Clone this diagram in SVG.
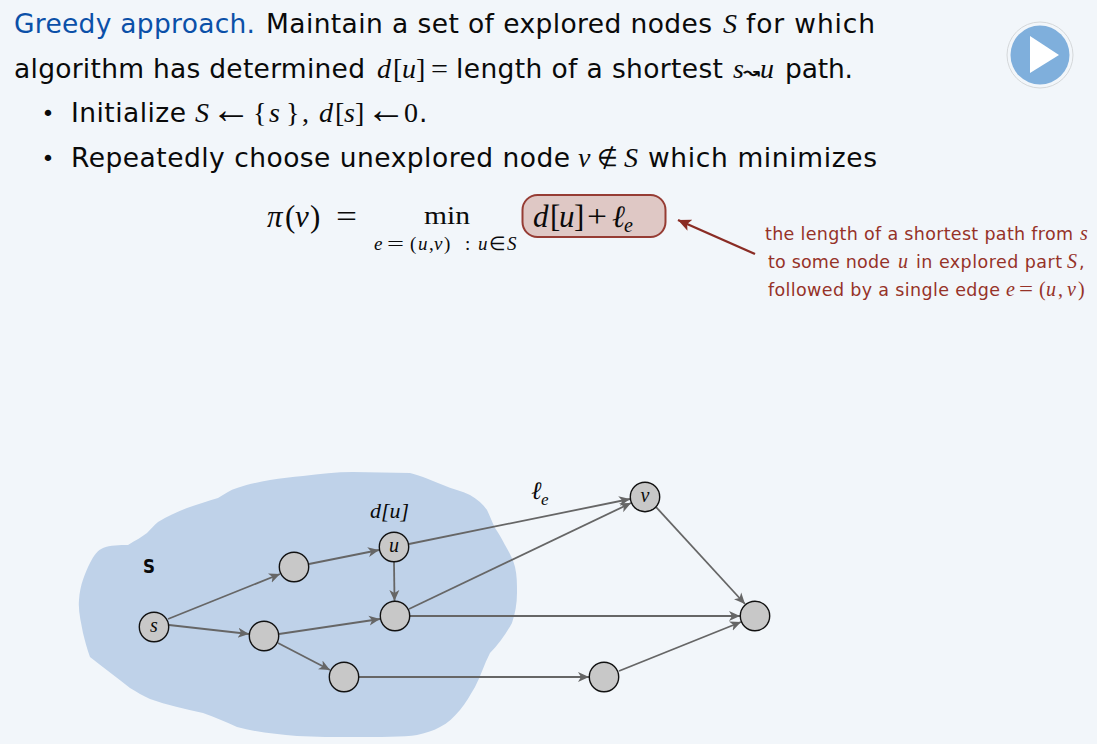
<svg xmlns="http://www.w3.org/2000/svg" width="1097" height="744" viewBox="0 0 1097 744">
<style>
text{font-family:"DejaVu Sans","Liberation Sans",sans-serif;fill:#0a0a0a}
.t{font-size:26.5px}
.b{font-size:22px}
.m{font-family:"Liberation Serif",serif;font-style:italic;font-size:28px}
.r{font-family:"Liberation Serif",serif;font-size:28px}
.ar{font-family:"Liberation Serif",serif;font-size:40px}
.c{font-family:"Liberation Serif",serif;font-size:31px}
.s{font-family:"Liberation Serif",serif;font-size:19px}
.i{font-style:italic}
.a{font-size:17.500px;fill:#963228}
.am{font-family:"Liberation Serif",serif;font-style:italic;font-size:20px;fill:#963228}
.amr{font-family:"Liberation Serif",serif;font-size:20px;fill:#963228}
.n{fill:#c8c8c8;stroke:#111;stroke-width:1.4}
.nl{font-family:"Liberation Serif",serif;font-style:italic;font-size:20px;text-anchor:middle}
.e{fill:none;stroke:#666;stroke-width:1.8;marker-end:url(#ah)}
</style>
<defs>
<marker id="ah" markerUnits="userSpaceOnUse" markerWidth="14" markerHeight="12" refX="11" refY="6" orient="auto"><path d="M0,1 L11,6 L0,11 L3,6 Z" fill="#666"/></marker>
<marker id="rh" markerUnits="userSpaceOnUse" markerWidth="16" markerHeight="14" refX="13" refY="7" orient="auto"><path d="M0,1 L13,7 L0,13 L3,7 Z" fill="#8a2c24"/></marker>
</defs>
<rect width="1097" height="744" fill="#f2f6fa"/>
<g id="heading">
<text class="t" x="14" y="33" textLength="241" style="fill:#0b50a8">Greedy approach.</text>
<text class="t" x="266" y="33" textLength="446">Maintain a set of explored nodes</text>
<text class="m" x="723" y="33">S</text>
<text class="t" x="746" y="33" textLength="129">for which</text>
<text class="t" x="14" y="78" textLength="351">algorithm has determined</text>
<text class="m" x="377" y="78">d</text><text class="r" x="393" y="78">[</text><text class="m" x="402" y="78">u</text><text class="r" x="416" y="78">]</text>
<text class="r" x="431" y="78" textLength="17" lengthAdjust="spacingAndGlyphs">=</text>
<text class="t" x="456" y="78" textLength="267">length of a shortest</text>
<text class="m" x="733" y="78">s</text><text x="743" y="78" style="font-size:17px;font-weight:bold" textLength="17" lengthAdjust="spacingAndGlyphs">↝</text><text class="m" x="760" y="78">u</text>
<text class="t" x="785" y="78" textLength="68">path.</text>
</g>
<g id="bullets">
<text class="b" x="41.500" y="121">•</text>
<text class="t" x="71" y="122" textLength="115">Initialize</text>
<text class="m" x="195" y="122">S</text>
<text class="ar" x="211" y="122.500">←</text>
<text class="r" x="253" y="122">{</text><text class="m" x="269" y="122">s</text><text class="r" x="286" y="122">}</text><text class="r" x="302" y="122">,</text>
<text class="m" x="319" y="122">d</text><text class="r" x="335" y="122">[</text><text class="m" x="344" y="122">s</text><text class="r" x="355" y="122">]</text>
<text class="ar" x="366" y="122.500">←</text>
<text class="r" x="404" y="122">0</text><text class="t" x="419" y="122">.</text>
<text class="b" x="41.500" y="166">•</text>
<text class="t" x="71" y="167" textLength="499">Repeatedly choose unexplored node</text>
<text class="m" x="578" y="167">v</text>
<text class="r" x="597" y="166" style="font-size:24px">∉</text>
<text class="m" x="624" y="167">S</text>
<text class="t" x="648" y="167" textLength="229">which minimizes</text>
</g>
<g id="play">
<circle cx="1040" cy="55" r="33" fill="none" stroke="#d5d8da" stroke-width="1"/>
<circle cx="1040" cy="55" r="29.500" fill="#7fafdc"/>
<path d="M1030,36 L1059,55 L1030,73 Z" fill="#fff"/>
</g>
<g id="formula">
<text class="c i" x="267" y="227">π</text><text class="c" x="285" y="227">(</text><text class="c i" x="295" y="227">v</text><text class="c" x="310" y="227">)</text>
<text class="c" x="336" y="227" textLength="21" lengthAdjust="spacingAndGlyphs">=</text>
<text class="c" x="424" y="224" style="font-size:25px" textLength="46" lengthAdjust="spacingAndGlyphs">min</text>
<text class="s i" x="374" y="250">e</text>
<text class="s" x="387" y="250" textLength="17" lengthAdjust="spacingAndGlyphs">=</text>
<text class="s" x="410" y="250">(</text>
<text class="s i" x="418" y="250">u</text>
<text class="s" x="429" y="250">,</text>
<text class="s i" x="434" y="250">v</text>
<text class="s" x="444" y="250">)</text>
<text class="s" x="465" y="250">:</text>
<text class="s i" x="478" y="250">u</text>
<text class="s" x="489" y="250">∈</text>
<text class="s i" x="507" y="250">S</text>
</g>
<g id="highlight">
<rect x="522.500" y="195" width="143" height="42" rx="15" fill="#dfc8c5" stroke="#963c34" stroke-width="2"/>
<text class="c i" x="533" y="227">d</text><text class="c" x="550" y="227">[</text><text class="c i" x="559" y="227">u</text><text class="c" x="574" y="227">]</text>
<text class="c" x="587" y="227" textLength="20" lengthAdjust="spacingAndGlyphs">+</text>
<text class="c i" x="612" y="227">ℓ</text><text class="c i" x="624" y="232" style="font-size:20px">e</text>
</g>
<g id="annotation">
<line x1="755" y1="254" x2="678" y2="220" stroke="#8a2c24" stroke-width="2.400" marker-end="url(#rh)"/>
<text class="a" x="765" y="240" textLength="308">the length of a shortest path from</text><text class="am" x="1080" y="240">s</text>
<text class="a" x="768" y="268" textLength="122">to some node</text><text class="am" x="898" y="268">u</text>
<text class="a" x="916" y="268" textLength="146">in explored part</text><text class="am" x="1067" y="268">S</text><text class="a" x="1079" y="268">,</text>
<text class="a" x="768" y="296" textLength="232">followed by a single edge</text>
<text class="am" x="1006" y="296">e</text><text class="amr" x="1019" y="296" textLength="14" lengthAdjust="spacingAndGlyphs">=</text><text class="amr" x="1039" y="296">(</text><text class="am" x="1046" y="296">u</text><text class="amr" x="1058" y="296">,</text><text class="am" x="1067" y="296">v</text><text class="amr" x="1078" y="296">)</text>
</g>
<path id="explored-region" fill="#bfd2e9" d="M79,600 C80,585 85,573 90,563 C94,555 98,550 103,548 C110,545 120,545 128,545 C136,540 142,537 147,533 C151,529 154,525 158,522 C168,516 177,512 187,508 C198,504 208,501 218,498 C225,494 230,490 237,488 C248,484 259,482 270,480 C281,478 292,477 303,476 C320,474 336,472 353,472 C372,472 391,473 410,473 C415,474 419,476 423,477 C430,480 436,482 443,485 C452,489 462,491 470,495 C477,499 483,504 487,510 C490,516 492,522 495,528 C499,534 502,539 505,545 C509,552 513,559 515,567 C517,575 517,584 517,593 C517,604 515,614 512,623 C506,634 498,645 490,653 C484,664 481,676 475,687 C470,695 466,703 460,710 C454,717 448,723 440,727 C433,731 425,733 417,735 C404,737 380,737 353,737 C334,737 316,737 297,736 C276,734 255,732 237,727 C226,722 215,717 203,713 C185,709 167,705 150,699 C143,696 137,692 130,688 C117,678 103,667 90,657 C87,649 85,641 83,633 C81,622 78,611 79,600 Z"/>
<g id="labels">
<text class="m" x="370" y="518" style="font-size:22px">d[u]</text>
<text class="m" x="531" y="499" style="font-size:25px">ℓ</text><text class="m" x="541" y="505" style="font-size:17px">e</text>
<text x="143" y="573" style="font-size:19px;font-weight:bold" textLength="12" lengthAdjust="spacingAndGlyphs">S</text>
</g>
<g id="connectors">
<line class="e" x1="168" y1="619" x2="280" y2="574"/>
<line class="e" x1="169" y1="625" x2="249" y2="634"/>
<line class="e" x1="309" y1="564" x2="379" y2="550"/>
<line class="e" x1="394" y1="562" x2="394.500" y2="601"/>
<line class="e" x1="279" y1="634" x2="380" y2="619"/>
<line class="e" x1="278" y1="643" x2="330" y2="670"/>
<line class="e" x1="409" y1="544" x2="630" y2="499"/>
<line class="e" x1="409" y1="609" x2="631" y2="503"/>
<line class="e" x1="410" y1="616" x2="740" y2="616"/>
<line class="e" x1="359" y1="677" x2="589" y2="677"/>
<line class="e" x1="656" y1="507" x2="745" y2="604"/>
<line class="e" x1="619" y1="671" x2="741" y2="622"/>
</g>
<g id="node-s"><circle class="n" cx="154" cy="627" r="14.700"/><text class="nl" x="154" y="632">s</text></g>
<g id="node-a"><circle class="n" cx="294" cy="567" r="14.700"/></g>
<g id="node-u"><circle class="n" cx="394" cy="547" r="14.700"/><text class="nl" x="394" y="552">u</text></g>
<g id="node-b"><circle class="n" cx="395" cy="616" r="14.700"/></g>
<g id="node-c"><circle class="n" cx="264" cy="636" r="14.700"/></g>
<g id="node-d"><circle class="n" cx="344" cy="677" r="14.700"/></g>
<g id="node-v"><circle class="n" cx="645" cy="497" r="14.700"/><text class="nl" x="645" y="502">v</text></g>
<g id="node-e"><circle class="n" cx="604" cy="677" r="14.700"/></g>
<g id="node-t"><circle class="n" cx="755" cy="616" r="14.700"/></g>
</svg>
